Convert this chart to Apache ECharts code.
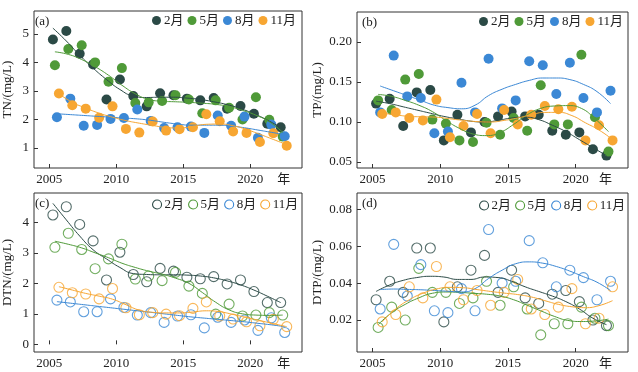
<!DOCTYPE html>
<html>
<head>
<meta charset="utf-8">
<script src="https://cdn.jsdelivr.net/npm/echarts@6/dist/echarts.min.js"></script>
<style>html,body{margin:0;padding:0;background:#fff;}#c{width:638px;height:372px;}</style>
</head>
<body>
<div id="c"></div>
<script>
// ---------- data ----------
const years = [2005,2006,2007,2008,2009,2010,2011,2012,2013,2014,2015,2016,2017,2018,2019,2020,2021,2022];
const months = ['2月','5月','8月','11月'];
const monthPos = [0.27,0.42,0.57,0.72]; // sampling time within the year
const xTicks = [2005,2010,2015,2020];
const xUnitLabel = '年';

// TN (mg/L)
const tnFeb = [4.8,5.1,4.3,3.93,2.7,3.4,2.82,2.46,2.92,2.85,2.73,2.67,2.75,2.38,2.47,2.2,1.85,1.73];
const tnMay = [3.9,4.47,4.6,4.0,3.32,3.8,2.58,2.6,2.65,2.85,2.7,2.22,2.67,2.41,2.0,2.78,1.99,1.4];
const tnAug = [2.08,2.73,1.78,1.81,2.02,2.05,2.35,1.95,1.7,1.73,1.75,1.53,2.14,1.78,2.1,1.36,1.82,1.41];
const tnNov = [2.91,2.5,2.38,2.06,2.46,1.67,1.54,1.93,1.61,1.66,1.73,2.18,1.94,1.58,1.53,1.21,1.52,1.08];
const tnFebFit = [5.2,4.75,4.25,3.8,3.4,3.05,2.82,2.77,2.78,2.78,2.75,2.7,2.62,2.52,2.38,2.2,1.98,1.72];
const tnMayFit = [4.37,4.28,4.1,3.85,3.55,3.2,2.9,2.7,2.64,2.62,2.6,2.57,2.53,2.45,2.32,2.15,1.92,1.55];
const tnAugFit = [2.2,2.17,2.14,2.11,2.08,2.05,2.02,1.97,1.9,1.84,1.8,1.8,1.8,1.77,1.71,1.63,1.55,1.47];
const tnNovFit = [2.9,2.6,2.4,2.22,2.08,1.96,1.87,1.79,1.72,1.7,1.76,1.83,1.84,1.78,1.65,1.48,1.3,1.12];
const tnTicks = [1,2,3,4,5];

// TP (mg/L)
const tpFeb = [0.123,0.129,0.095,0.137,0.140,0.077,0.109,0.087,0.100,0.107,0.113,0.107,0.109,0.089,0.084,0.087,0.066,0.058];
const tpMay = [0.127,0.115,0.153,0.160,0.103,0.098,0.077,0.075,0.099,0.084,0.105,0.089,0.146,0.097,0.097,0.184,0.106,0.063];
const tpAug = [0.112,0.183,0.132,0.130,0.086,0.088,0.149,0.112,0.179,0.117,0.127,0.176,0.171,0.135,0.174,0.130,0.112,0.139];
const tpNov = [0.110,0.112,0.105,0.102,0.128,0.081,0.095,0.110,0.086,0.115,0.097,0.109,0.120,0.116,0.119,0.077,0.096,0.077];
const tpFebFit = [0.126,0.123,0.119,0.115,0.111,0.107,0.104,0.101,0.100,0.102,0.105,0.106,0.103,0.096,0.088,0.078,0.068,0.058];
const tpMayFit = [0.1345,0.132,0.127,0.121,0.113,0.102,0.092,0.085,0.083,0.087,0.097,0.109,0.117,0.120,0.1205,0.117,0.104,0.088];
const tpAugFit = [0.145,0.139,0.133,0.127,0.121,0.118,0.1165,0.121,0.133,0.141,0.147,0.152,0.155,0.155,0.153,0.147,0.138,0.123];
const tpNovFit = [0.111,0.109,0.107,0.1065,0.106,0.104,0.102,0.1005,0.100,0.102,0.105,0.109,0.112,0.112,0.108,0.099,0.090,0.078];
const tpTicks = [0.05,0.10,0.15,0.20];

// DTN (mg/L)
const dtnFeb = [4.24,4.51,3.93,3.39,2.11,3.02,2.29,2.05,2.49,2.40,2.20,2.15,2.22,1.98,2.11,1.73,1.37,1.37];
const dtnMay = [3.18,3.64,3.11,2.48,2.80,3.28,2.14,2.24,2.09,2.36,1.91,1.67,0.99,1.32,0.93,0.96,1.04,0.96];
const dtnAug = [1.45,1.39,1.07,1.07,1.49,1.21,0.96,1.04,0.72,0.93,0.97,0.54,0.89,0.72,0.80,0.46,0.87,0.39];
const dtnNov = [1.87,1.69,1.65,1.49,1.83,1.20,0.97,1.04,0.99,0.94,1.18,1.39,0.93,0.83,0.74,0.61,0.82,0.58];
const dtnFebFit = [4.62,4.08,3.55,3.1,2.8,2.52,2.32,2.29,2.28,2.28,2.27,2.24,2.18,2.08,1.95,1.78,1.58,1.37];
const dtnMayFit = [3.38,3.28,3.16,3.0,2.84,2.66,2.52,2.4,2.3,2.17,2.0,1.7,1.38,1.13,1.0,0.96,0.95,0.96];
const dtnAugFit = [1.40,1.35,1.30,1.25,1.20,1.15,1.10,1.05,1.0,0.95,0.90,0.86,0.82,0.78,0.74,0.69,0.64,0.58];
const dtnNovFit = [1.89,1.78,1.67,1.58,1.48,1.3,1.12,1.05,1.03,1.03,1.06,1.1,1.07,0.98,0.88,0.78,0.68,0.58];
const dtnTicks = [0,1,2,3,4];

// DTP (mg/L)
const dtpFeb = [0.031,0.041,0.035,0.059,0.059,0.019,0.038,0.047,0.055,0.035,0.047,0.032,0.029,0.034,0.036,0.030,0.020,0.017];
const dtpMay = [0.016,0.027,0.020,0.048,0.035,0.035,0.029,0.032,0.041,0.028,0.038,0.026,0.012,0.018,0.018,0.027,0.021,0.017];
const dtpAug = [0.026,0.061,0.033,0.050,0.025,0.024,0.037,0.025,0.069,0.040,0.041,0.063,0.051,0.038,0.047,0.043,0.031,0.041];
const dtpNov = [0.019,0.023,0.038,0.032,0.049,0.038,0.031,0.036,0.028,0.035,0.042,0.026,0.023,0.027,0.037,0.018,0.021,0.038];
const dtpFebFit = [0.0355,0.039,0.0415,0.043,0.0437,0.0433,0.042,0.042,0.0433,0.043,0.041,0.038,0.0355,0.033,0.030,0.026,0.021,0.0175];
const dtpMayFit = [0.0175,0.024,0.0285,0.032,0.0345,0.0352,0.035,0.0345,0.034,0.033,0.031,0.028,0.025,0.022,0.0198,0.0192,0.0195,0.0205];
const dtpAugFit = [0.0365,0.0368,0.0366,0.0364,0.036,0.0356,0.0352,0.037,0.0425,0.047,0.0505,0.0515,0.0508,0.049,0.0465,0.0435,0.0405,0.036];
const dtpNovFit = [0.019,0.026,0.031,0.0345,0.0368,0.0377,0.0375,0.0365,0.0355,0.0346,0.0338,0.0325,0.0305,0.0285,0.0272,0.0267,0.0278,0.0305];
const dtpTicks = [0.02,0.04,0.06,0.08];

// ---------- styling ----------
const colors = ['#2b4a46','#4f9a38','#3b88d5','#f7a632'];
const FONT = '"Liberation Serif","Noto Sans CJK SC",serif';
const TXT = '#222';

const panels = [
  {label:'(a)', name:'TN/(mg/L)', pts:[tnFeb,tnMay,tnAug,tnNov], fit:[tnFebFit,tnMayFit,tnAugFit,tnNovFit], ticks:tnTicks, dec:0, filled:true,
   grid:{left:32,top:11,width:270,height:157}, ymin:0.3, ymax:5.8, nameGap:20, unitX:2022.5, lg:{left:152,top:14}, lab:{left:35,top:15}},
  {label:'(b)', name:'TP/(mg/L)', pts:[tpFeb,tpMay,tpAug,tpNov], fit:[tpFebFit,tpMayFit,tpAugFit,tpNovFit], ticks:tpTicks, dec:2, filled:true,
   grid:{left:357,top:12,width:271,height:156}, ymin:0.0425, ymax:0.2375, nameGap:33, unitX:2022.2, lg:{left:479,top:15}, lab:{left:362,top:16}},
  {label:'(c)', name:'DTN/(mg/L)', pts:[dtnFeb,dtnMay,dtnAug,dtnNov], fit:[dtnFebFit,dtnMayFit,dtnAugFit,dtnNovFit], ticks:dtnTicks, dec:0, filled:false,
   grid:{left:32,top:193,width:270,height:159}, ymin:-0.25, ymax:4.96, nameGap:20, unitX:2022.5, lg:{left:152,top:198}, lab:{left:35,top:197}},
  {label:'(d)', name:'DTP/(mg/L)', pts:[dtpFeb,dtpMay,dtpAug,dtpNov], fit:[dtpFebFit,dtpMayFit,dtpAugFit,dtpNovFit], ticks:dtpTicks, dec:2, filled:false,
   grid:{left:357,top:193,width:271,height:159}, ymin:0.0027, ymax:0.0888, nameGap:33, unitX:2022.2, lg:{left:479,top:199}, lab:{left:362,top:197}}
];

const option = {
  animation:false,
  backgroundColor:'#fff',
  grid:[], xAxis:[], yAxis:[], series:[], legend:[], title:[]
};

panels.forEach((p, gi) => {
  option.grid.push(Object.assign({show:true, borderColor:'#333', borderWidth:1, backgroundColor:'transparent'}, p.grid));
  option.xAxis.push({
    type:'value', gridIndex:gi, min:2003.86, max:2023.86,
    axisLine:{show:false}, splitLine:{show:false},
    axisTick:{show:true, inside:true, length:4, customValues:xTicks, lineStyle:{color:'#333'}},
    axisLabel:{show:true, margin:5, fontSize:13, fontFamily:FONT, color:TXT,
      customValues: xTicks.concat([p.unitX]),
      formatter: v => (v > 2021 ? xUnitLabel : String(Math.round(v)))}
  });
  option.yAxis.push({
    type:'value', gridIndex:gi, min:p.ymin, max:p.ymax,
    name:p.name, nameLocation:'middle', nameGap:p.nameGap,
    nameTextStyle:{fontSize:13, fontFamily:FONT, color:TXT},
    axisLine:{show:false}, splitLine:{show:false},
    axisTick:{show:true, inside:true, length:4, customValues:p.ticks, lineStyle:{color:'#333'}},
    axisLabel:{show:true, margin:5, fontSize:13, fontFamily:FONT, color:TXT,
      customValues:p.ticks, formatter: v => v.toFixed(p.dec)}
  });
  months.forEach((m, si) => {
    const c = colors[si];
    option.series.push({
      type:'scatter', name:m, xAxisIndex:gi, yAxisIndex:gi,
      symbol:'circle', symbolSize: 10,
      itemStyle: p.filled ? {color:c, opacity:1} : {color:'rgba(0,0,0,0)', borderColor:c, borderWidth:1.1},
      data: years.map((y, i) => [y + monthPos[si], p.pts[si][i]]),
      z:2
    });
    option.series.push({
      type:'line', name:m + ' fit', xAxisIndex:gi, yAxisIndex:gi,
      smooth:0.5, showSymbol:false, symbol:'none',
      lineStyle:{color:c, width:1},
      data: years.map((y, i) => [y + monthPos[si], p.fit[si][i]]),
      z:3
    });
  });
  option.legend.push({
    left:p.lg.left, top:p.lg.top, orient:'horizontal', itemGap:4, itemWidth:9, itemHeight:9,
    padding:0, selectedMode:false,
    textStyle:{fontSize:13, fontFamily:FONT, color:TXT, padding:[0,0,0,-2]},
    data: months.map((m, si) => ({
      name:m, icon:'circle',
      itemStyle: p.filled ? {color:colors[si], borderWidth:0} : {color:'rgba(0,0,0,0)', borderColor:colors[si], borderWidth:1.1}
    }))
  });
  option.title.push({
    text:p.label, left:p.lab.left, top:p.lab.top, padding:0,
    textStyle:{fontSize:13, fontWeight:'normal', fontFamily:FONT, color:TXT}
  });
});

const chart = echarts.init(document.getElementById('c'), null, {renderer:'canvas'});
chart.setOption(option);
</script>
</body>
</html>
